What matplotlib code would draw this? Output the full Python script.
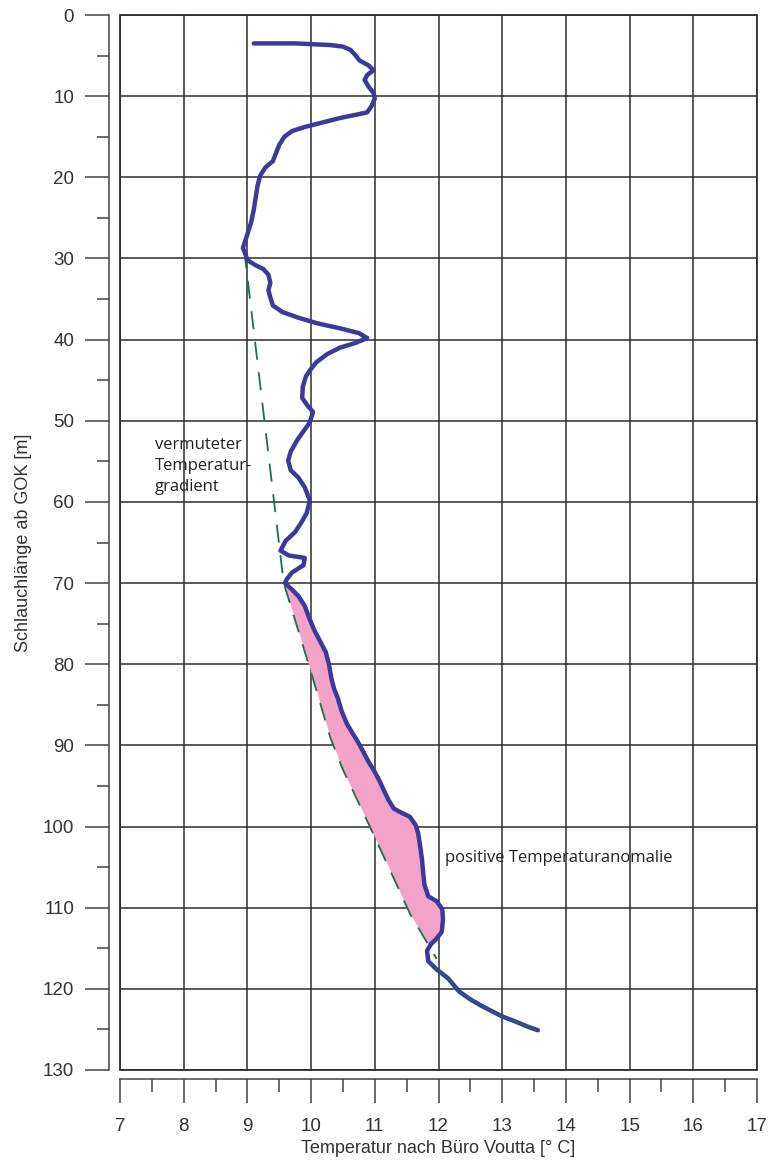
import numpy as np
import matplotlib.pyplot as plt
from matplotlib.ticker import MultipleLocator
from matplotlib.patches import Rectangle

#### DATA ####
# measured temperature profile along the hose: temperature [°C], length [m]
temp = [9.10, 9.75, 10.30, 10.50, 10.62, 10.70, 10.76, 10.90, 10.98, 10.88,
        10.84, 10.90, 10.98, 11.00, 10.95, 10.88, 10.70, 10.45, 10.15, 9.90,
        9.70, 9.58, 9.50, 9.45, 9.40, 9.28, 9.20, 9.16, 9.13, 9.10,
        9.06, 9.02, 8.98, 8.93, 8.97, 9.00, 9.12, 9.25, 9.33, 9.36,
        9.33, 9.36, 9.40, 9.55, 9.80, 10.10, 10.45, 10.75, 10.88, 10.70,
        10.45, 10.25, 10.08, 9.98, 9.92, 9.87, 9.86, 9.95, 10.03, 9.98,
        9.88, 9.78, 9.68, 9.64, 9.68, 9.80, 9.90, 9.98, 9.93, 9.85,
        9.75, 9.60, 9.52, 9.65, 9.90, 9.88, 9.70, 9.62, 9.59,
        9.70, 9.80, 9.90, 9.97, 10.05, 10.15, 10.23, 10.28, 10.32, 10.36,
        10.42, 10.48, 10.56, 10.65, 10.73, 10.82, 10.90, 10.98, 11.07, 11.14,
        11.22, 11.30, 11.42, 11.55, 11.64, 11.68, 11.71, 11.74, 11.76, 11.78,
        11.84, 11.97, 12.06, 12.07, 12.05, 11.96, 11.88, 11.82, 11.84, 11.97,
        12.15, 12.32, 12.50, 12.70, 13.00, 13.20, 13.38, 13.56]
depth = [3.5, 3.5, 3.7, 3.9, 4.3, 5.0, 5.6, 6.2, 6.8, 7.4,
         8.0, 8.8, 9.6, 10.3, 11.2, 12.0, 12.3, 12.7, 13.3, 13.8,
         14.3, 15.0, 16.0, 17.0, 18.0, 18.8, 19.8, 21.0, 22.5, 24.0,
         25.5, 26.5, 27.5, 28.7, 29.5, 30.2, 30.8, 31.3, 32.0, 33.0,
         33.9, 34.8, 35.8, 36.6, 37.3, 38.0, 38.6, 39.2, 39.8, 40.4,
         41.0, 41.8, 42.8, 43.8, 44.5, 45.8, 47.2, 48.2, 48.9, 50.2,
         51.3, 52.4, 53.8, 54.9, 56.1, 57.0, 58.2, 59.8, 61.4, 62.5,
         63.7, 64.8, 66.0, 66.6, 66.9, 67.8, 68.7, 69.5, 70.0,
         70.8, 71.6, 72.8, 74.3, 75.8, 77.3, 78.5, 80.0, 81.8, 83.0,
         84.2, 85.8, 87.3, 88.5, 89.5, 90.8, 92.0, 93.0, 94.3, 95.5,
         96.8, 97.8, 98.3, 98.8, 99.8, 100.8, 102.3, 104.0, 105.7, 107.2,
         108.6, 109.2, 110.2, 111.5, 113.0, 113.9, 114.5, 115.3, 116.6, 117.6,
         118.7, 120.3, 121.3, 122.2, 123.4, 124.0, 124.6, 125.1]

# assumed undisturbed temperature gradient
grad_temp = [8.95, 9.57, 10.00, 10.30, 10.50, 11.00, 11.55, 11.97]
grad_depth = [29.0, 70.0, 81.0, 89.0, 93.0, 101.3, 110.7, 116.3]

# depth window of the positive anomaly
anom_top, anom_bottom = 70.0, 114.6

x_ticks = list(range(7, 18))
y_ticks = list(range(0, 131, 10))

#### PLOT ####
plt.rcParams['font.family'] = ['Liberation Sans', 'DejaVu Sans']

fig = plt.figure(figsize=(7.69, 11.61), dpi=100)
ax = fig.add_axes([120 / 769, 1 - 1070 / 1161, 637 / 769, 1055 / 1161])

temp = np.array(temp)
depth = np.array(depth)

# shaded anomaly between measured curve and gradient
sel = (depth >= anom_top) & (depth <= anom_bottom)
d_an = depth[sel]
t_grad = np.interp(d_an, grad_depth, grad_temp)
ax.fill_betweenx(d_an, t_grad, temp[sel], where=temp[sel] >= t_grad,
                 color='#f4a3c8', lw=0, zorder=2)

ax.plot(grad_temp, grad_depth, color='#1d6e4c', lw=1.3,
        dashes=(10, 7), zorder=3)
ax.plot(temp, depth, color='#3b3999', lw=3.2, solid_capstyle='round',
        solid_joinstyle='round', zorder=4)
low = depth >= 116.6
ax.plot(temp[low], depth[low], color='#1f6e5a', lw=0.9, alpha=0.8, zorder=5)

ax.set_xlim(7, 17)
ax.set_ylim(130, 0)

ax.set_xticks(x_ticks)
ax.set_yticks(y_ticks)
ax.xaxis.set_minor_locator(MultipleLocator(0.5))
ax.yaxis.set_minor_locator(MultipleLocator(5))
ax.grid(True, which='major', color='#2e2e2e', lw=1.1, zorder=1)

# box around the plot area
ax.add_patch(Rectangle((0, 0), 1, 1, transform=ax.transAxes, fill=False,
                       edgecolor='#2e2e2e', lw=1.3, zorder=6, clip_on=False))

for s in ['top', 'right']:
    ax.spines[s].set_visible(False)
ax.spines['left'].set_position(('outward', 8))
ax.spines['bottom'].set_position(('outward', 6.5))
for s in ['left', 'bottom']:
    ax.spines[s].set_color('#444444')
    ax.spines[s].set_linewidth(1.1)

ax.tick_params(which='major', direction='out', length=17, width=1.1,
               color='#444444', labelsize=13.5, labelcolor='#333333')
ax.tick_params(which='minor', direction='out', length=9, width=1.1,
               color='#444444')
ax.tick_params(axis='y', which='major', pad=8)
ax.tick_params(axis='x', which='major', pad=11)

ax.set_xlabel('Temperatur nach Büro Voutta [° C]', fontsize=13,
              color='#333333', labelpad=4)
ax.set_ylabel('Schlauchlänge ab GOK [m]', fontsize=13, color='#333333',
              labelpad=8)

ax.text(7.55, 55.6, 'vermuteter\nTemperatur-\ngradient', fontsize=12,
        family=['Open Sans', 'DejaVu Sans'], color='#222222',
        va='center', ha='left', linespacing=1.4, zorder=7)
ax.text(12.1, 103.9, 'positive Temperaturanomalie', fontsize=12,
        family=['Open Sans', 'DejaVu Sans'], color='#222222',
        va='center', ha='left', zorder=7)

fig.savefig('out.png', dpi=100, facecolor='white')
